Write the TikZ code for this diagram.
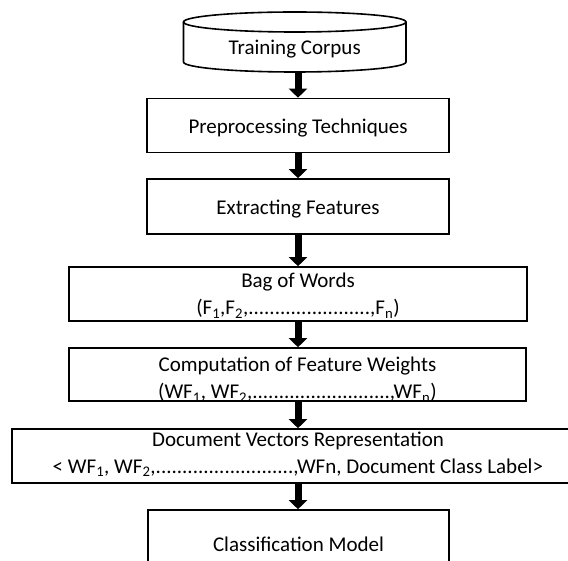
\documentclass[tikz,border=0pt]{standalone}
\usepackage{fontspec}
\setmainfont{Carlito}
\usetikzlibrary{arrows.meta}
\newcommand\dotrun[1]{\foreach\dotidx in {1,...,#1}{.}}
\begin{document}
\begin{tikzpicture}[x=1pt,y=1pt,
  box/.style={draw=black,line width=1.6pt,fill=white,align=center,inner sep=0pt,
    font=\fontsize{21}{27}\selectfont},
  flow/.style={line width=7pt,-{Triangle[length=9pt,width=18pt]}}]
\useasboundingbox (0,0) rectangle (568,-561);
\clip (0,0) rectangle (568,-561);
% cylinder
\draw[line width=1.6pt,fill=white] (183.5,-22) -- (183.5,-62)
  arc[start angle=180,end angle=360,x radius=111.25pt,y radius=10pt] -- (406,-22);
\draw[line width=1.6pt] (294.75,-22) ellipse [x radius=111.25pt,y radius=10pt];
\node[inner sep=0pt,minimum width=222.5pt,minimum height=60pt] (tc) at (294.75,-42) {};
\node[font=\fontsize{21}{27}\selectfont,inner sep=0pt] (tct) at (294.75,-49) {Training Corpus};
% boxes
\node[box,minimum width=302pt,minimum height=54pt,text height=18pt,text depth=2pt] (pre) at (298,-125.5) {Preprocessing Techniques};
\node[box,minimum width=302pt,minimum height=55pt,text height=18pt,text depth=2pt] (ext) at (298,-206.5) {Extracting Features};
\node[box,minimum width=458pt,minimum height=54pt,text height=44pt,text depth=2pt] (bag) at (298,-294)
  {Bag of Words\\(F\textsubscript{1},F\textsubscript{2},\dotrun{23},F\textsubscript{n})};
\node[box,minimum width=457pt,minimum height=53pt,text height=51pt,text depth=2pt] (comp) at (297.5,-374.5)
  {Computation of Feature Weights\\(WF\textsubscript{1}, WF\textsubscript{2},\dotrun{26},WF\textsubscript{n})};
\node[box,minimum width=572pt,minimum height=54pt,text height=36pt,text depth=2pt] (doc) at (298,-456)
  {Document Vectors Representation\\\textless{} WF\textsubscript{1}, WF\textsubscript{2},\dotrun{26},WFn, Document Class Label\textgreater};
\node[box,minimum width=301pt,minimum height=68pt,text height=16pt,text depth=2pt] (cls) at (298.5,-544) {Classification Model};
% arrows
\draw[flow] (tc.south -| pre.north) -- (pre.north);
\draw[flow] (pre.south) -- (ext.north);
\draw[flow] (ext.south) -- (bag.north);
\draw[flow] (bag.south) -- (bag.south |- comp.north);
\draw[flow] (comp.south -| doc.north) -- (doc.north);
\draw[flow] (doc.south) -- (doc.south |- cls.north);
\end{tikzpicture}
\end{document}
